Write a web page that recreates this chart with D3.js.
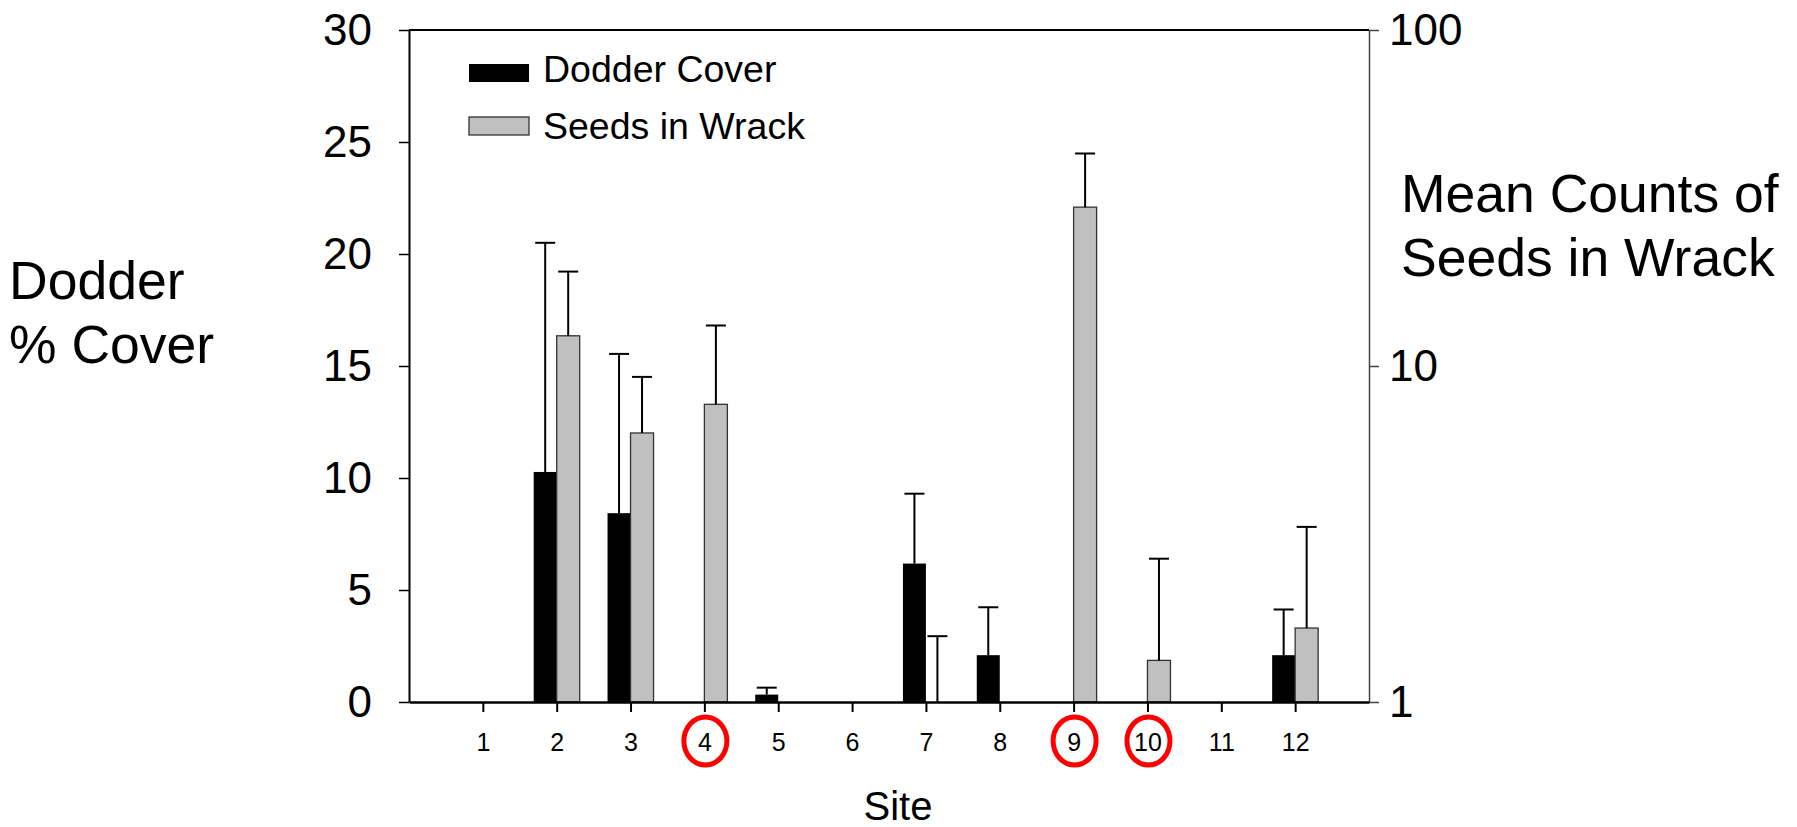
<!DOCTYPE html>
<html>
<head>
<meta charset="utf-8">
<script src="https://d3js.org/d3.v7.min.js"></script>
<style>
  body { margin: 0; background: #fff; }
  svg { font-family: "Liberation Sans", Arial, sans-serif; }
</style>
</head>
<body>
<script>
// data
var sites = [1, 2, 3, 4, 5, 6, 7, 8, 9, 10, 11, 12];
var dodderCover = [0, 10.27, 8.43, 0, 0.33, 0, 6.18, 2.09, 0, 0, 0, 2.09];
var dodderUpper = [null, 20.5, 15.54, null, 0.64, null, 9.3, 4.23, null, null, null, 4.13];
var seedCounts = [1, 12.3, 6.32, 7.69, 1, 1, 1, 1, 29.7, 1.33, 1, 1.66];
var seedUpper = [null, 19.1, 9.28, 13.2, null, null, 1.57, null, 42.9, 2.67, null, 3.32];
var circledSites = [4, 9, 10];
var leftTicks = [0, 5, 10, 15, 20, 25, 30];
var rightTicks = [1, 10, 100];
var seriesNames = ["Dodder Cover", "Seeds in Wrack"];

// set the dimensions and margins of the graph
var margin = {top: 30, right: 428, bottom: 125, left: 409},
    width = 1797 - margin.left - margin.right,
    height = 827 - margin.top - margin.bottom;

var root = d3.select("body")
  .append("svg")
    .attr("width", 1797)
    .attr("height", 827);

var svg = root.append("g")
    .attr("transform", "translate(" + margin.left + "," + margin.top + ")");

// scales
var x = d3.scaleLinear().domain([0, 13]).range([0, width]);
var yL = d3.scaleLinear().domain([0, 30]).range([height, 0]);
var yR = d3.scaleLog().domain([1, 100]).range([height, 0]);

var barW = 23, capW = 20;

var rows = sites.map(function(s, i) {
  return {site: s, cover: dodderCover[i], coverUp: dodderUpper[i],
          seeds: seedCounts[i], seedsUp: seedUpper[i]};
});

// black bars (left axis)
svg.append("g").selectAll("rect")
  .data(rows.filter(function(d) { return d.cover > 0; }))
  .enter().append("rect")
    .attr("x", function(d) { return x(d.site) - barW; })
    .attr("y", function(d) { return yL(d.cover); })
    .attr("width", barW)
    .attr("height", function(d) { return height - yL(d.cover); })
    .attr("fill", "#000");

// grey bars (right log axis)
svg.append("g").selectAll("rect")
  .data(rows.filter(function(d) { return d.seeds > 1; }))
  .enter().append("rect")
    .attr("x", function(d) { return x(d.site); })
    .attr("y", function(d) { return yR(d.seeds); })
    .attr("width", barW)
    .attr("height", function(d) { return height - yR(d.seeds); })
    .attr("fill", "#c0c0c0")
    .attr("stroke", "#333")
    .attr("stroke-width", 1.3);

// error bars (upper half only)
function errBars(data, cx, yTop, yEnd) {
  var g = svg.append("g").attr("stroke", "#000").attr("stroke-width", 2);
  var e = g.selectAll("g").data(data).enter().append("g");
  e.append("line")
    .attr("x1", cx).attr("x2", cx)
    .attr("y1", yTop).attr("y2", yEnd);
  e.append("line")
    .attr("x1", function(d) { return cx(d) - capW / 2; })
    .attr("x2", function(d) { return cx(d) + capW / 2; })
    .attr("y1", yEnd).attr("y2", yEnd);
}

errBars(rows.filter(function(d) { return d.coverUp != null; }),
  function(d) { return x(d.site) - barW / 2; },
  function(d) { return yL(d.cover); },
  function(d) { return yL(d.coverUp); });

errBars(rows.filter(function(d) { return d.seedsUp != null; }),
  function(d) { return x(d.site) + barW / 2; },
  function(d) { return yR(d.seeds); },
  function(d) { return yR(d.seedsUp); });

// top frame line
svg.append("line")
  .attr("x1", 0).attr("x2", width)
  .attr("y1", 0).attr("y2", 0)
  .attr("stroke", "#000").attr("stroke-width", 2);

// Add left axis
var axL = svg.append("g")
  .call(d3.axisLeft(yL).tickValues(leftTicks).tickSize(10).tickSizeOuter(0).tickPadding(27));
axL.select(".domain").attr("stroke-width", 2);
axL.selectAll(".tick line").attr("stroke-width", 1.5);
axL.selectAll("text").attr("font-size", "44px").attr("font-family", null).attr("fill", "#000");

// Add right axis
var axR = svg.append("g")
  .attr("transform", "translate(" + width + ",0)")
  .call(d3.axisRight(yR).tickValues(rightTicks).tickFormat(d3.format("d"))
    .tickSize(10).tickSizeOuter(0).tickPadding(10));
axR.select(".domain").attr("stroke", "#444").attr("stroke-width", 1.5);
axR.selectAll(".tick line").attr("stroke", "#444").attr("stroke-width", 1.5);
axR.selectAll("text").attr("font-size", "44px").attr("font-family", null).attr("fill", "#000");

// Add X axis
var axB = svg.append("g")
  .attr("transform", "translate(0," + height + ")")
  .call(d3.axisBottom(x).tickValues(sites).tickFormat(d3.format("d"))
    .tickSize(10).tickSizeOuter(0).tickPadding(21));
axB.select(".domain").attr("stroke-width", 2.5);
axB.selectAll(".tick line").attr("stroke-width", 2);
axB.selectAll("text").attr("font-size", "25px").attr("font-family", null).attr("fill", "#000");

// red circles round some site labels
svg.append("g").selectAll("ellipse")
  .data(circledSites)
  .enter().append("ellipse")
    .attr("cx", function(d) { return x(d) + 1; })
    .attr("cy", height + 39)
    .attr("rx", 21.5)
    .attr("ry", 24)
    .attr("fill", "none")
    .attr("stroke", "#ff0000")
    .attr("stroke-width", 5);

// legend
var legend = svg.append("g")
  .attr("transform", "translate(60,34)");

legend.selectAll("rect")
  .data(seriesNames)
  .enter().append("rect")
    .attr("x", 0)
    .attr("y", function(d, i) { return i * 53; })
    .attr("width", 60)
    .attr("height", 18)
    .attr("fill", function(d, i) { return i == 0 ? "#000" : "#c0c0c0"; })
    .attr("stroke", function(d, i) { return i == 0 ? "none" : "#333"; })
    .attr("stroke-width", 1.3);

legend.selectAll("text")
  .data(seriesNames)
  .enter().append("text")
    .attr("x", 74)
    .attr("y", function(d, i) { return 18 + i * 57; })
    .attr("font-size", "37.5px")
    .text(function(d) { return d; });

// axis titles
var leftTitle = root.append("text").attr("font-size", "53.5px");
leftTitle.append("tspan").attr("x", 9).attr("y", 299).text("Dodder");
leftTitle.append("tspan").attr("x", 9).attr("y", 363).text("% Cover");

var rightTitle = root.append("text").attr("font-size", "53.5px");
rightTitle.append("tspan").attr("x", 1401).attr("y", 212).text("Mean Counts of");
rightTitle.append("tspan").attr("x", 1401).attr("y", 276).text("Seeds in Wrack");

root.append("text")
  .attr("x", 898)
  .attr("y", 820)
  .attr("text-anchor", "middle")
  .attr("font-size", "40px")
  .text("Site");
</script>
</body>
</html>
